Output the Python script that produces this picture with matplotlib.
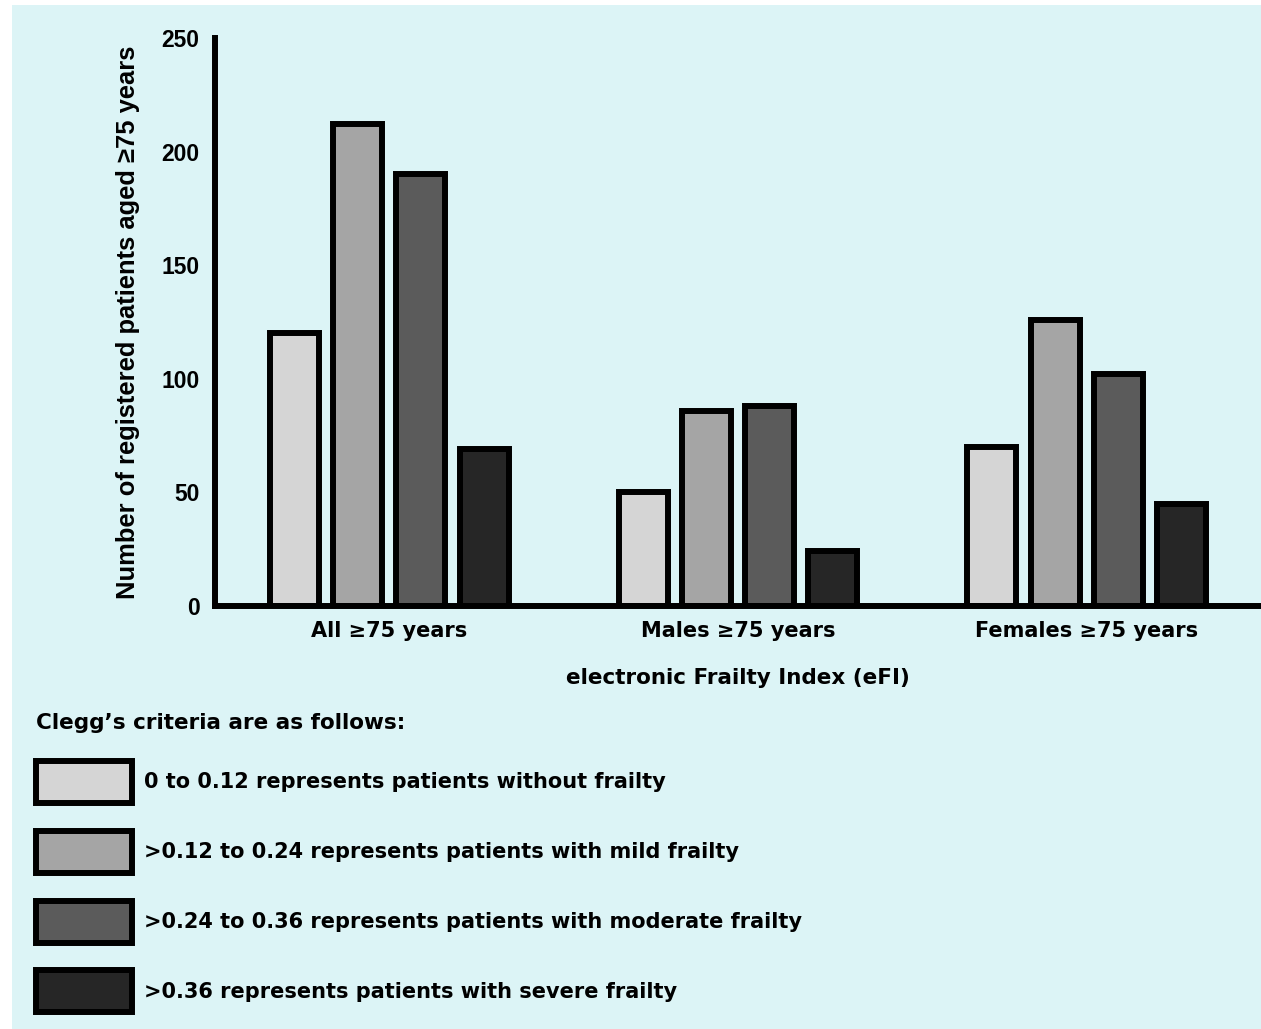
import numpy as np
import matplotlib
matplotlib.use("Agg")
import matplotlib.pyplot as plt
from matplotlib.patches import Rectangle

# ---------- data ---------------------------------------------------------
groups = ["All \u226575 years", "Males \u226575 years", "Females \u226575 years"]
efi_bands = [
    "0 to 0.12 represents patients without frailty",
    ">0.12 to 0.24 represents patients with mild frailty",
    ">0.24 to 0.36 represents patients with moderate frailty",
    ">0.36 represents patients with severe frailty",
]
no_frailty = [120, 50, 70]
mild = [212, 86, 126]
moderate = [190, 88, 102]
severe = [69, 24, 45]
yticks = [0, 50, 100, 150, 200, 250]

# ---------- style --------------------------------------------------------
fills = ["#d5d5d5", "#a5a5a5", "#5b5b5b", "#262626"]
bg = "#dcf4f6"
lw = 4.3
din = ["DejaVu Sans"]
arial = ["Liberation Sans", "DejaVu Sans"]

W, H = 1261, 1029
fig = plt.figure(figsize=(W / 100, H / 100), dpi=100, facecolor="white")
fig.add_artist(Rectangle((12 / W, 0), 1 - 12 / W, 1 - 5 / H,
                         transform=fig.transFigure, facecolor=bg,
                         edgecolor="none", zorder=-10))

ax = fig.add_axes([215 / W, 1 - 606 / H, 1 - 215 / W, (606 - 38) / H])
ax.set_facecolor("none")

x = np.arange(len(groups))
pitch = 0.1815
width = 0.1405
series = [no_frailty, mild, moderate, severe]
bars = []
for i, (vals, fc, lab) in enumerate(zip(series, fills, efi_bands)):
    b = ax.bar(x + (i - 1.5) * pitch, vals, width, color=fc,
               edgecolor="black", linewidth=lw, label=lab, zorder=2)
    bars.append(b)

ax.set_xlim(-0.5, 2.5)
ax.set_ylim(0, 250)
ax.set_yticks(yticks)
ax.set_yticklabels([str(v) for v in yticks], family=arial,
                   fontweight="bold", fontsize=16.5)
ax.set_xticks(x)
ax.set_xticklabels(groups, family=din, fontweight="bold", fontsize=15)
ax.tick_params(axis="both", length=0)
ax.tick_params(axis="y", pad=11)
ax.tick_params(axis="x", pad=11)

for side in ["top", "right"]:
    ax.spines[side].set_visible(False)
for side in ["left", "bottom"]:
    ax.spines[side].set_linewidth(lw)
    ax.spines[side].set_zorder(3)

ax.set_ylabel("Number of registered patients aged \u226575 years",
              family=arial, fontweight="bold", fontsize=18.4)
ax.yaxis.set_label_coords(-0.0717, 0.5)
ax.set_xlabel("electronic Frailty Index (eFI)", family=din,
              fontweight="bold", fontsize=15.5)
ax.xaxis.set_label_coords(0.5, -0.1092)

# legend of eFI bands (Clegg's criteria)
fs_pt = 15
fs = fs_pt * 100 / 72
leg = fig.legend(handles=bars, labels=efi_bands, loc="upper left",
                 bbox_to_anchor=(36 / W, 1 - 713 / H),
                 frameon=False, borderpad=0, borderaxespad=0,
                 handlelength=96 / fs, handleheight=2.72,
                 handletextpad=12 / fs, labelspacing=1.34,
                 title="Clegg\u2019s criteria are as follows:",
                 alignment="left",
                 prop={"family": din, "weight": "bold", "size": fs_pt},
                 title_fontproperties={"family": din, "weight": "bold",
                                       "size": 15.5})

fig.savefig("out.png", dpi=100, facecolor=fig.get_facecolor())
